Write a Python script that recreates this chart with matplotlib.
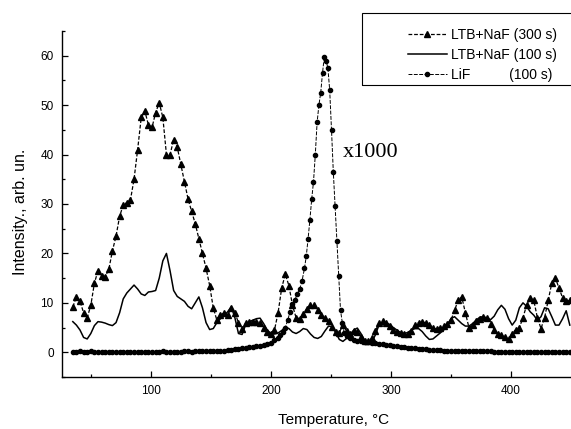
import numpy as np
import matplotlib
matplotlib.use("Agg")
import matplotlib.pyplot as plt
from matplotlib.patches import Rectangle

plt.rcParams['font.family'] = ['Liberation Sans', 'DejaVu Sans']

# temperature grid of the two LTB+NaF curves, deg C
temp = np.arange(35, 450, 3)

ltb_300 = [9.2, 11.2, 10.3, 8.0, 7.0, 9.5, 14.0, 16.5, 15.5, 15.3,
           16.8, 20.5, 23.5, 27.5, 29.8, 30.3, 30.8, 35.0, 41.0, 47.5,
           48.8, 46.0, 45.5, 48.5, 50.5, 47.5, 40.0, 40.0, 43.0, 41.5,
           38.0, 34.5, 31.0, 28.5, 26.0, 23.0, 20.0, 17.0, 13.5, 9.0,
           6.5, 7.5, 8.0, 7.5, 9.0, 8.0, 6.0, 4.8, 5.9, 6.1,
           6.2, 6.2, 6.0, 5.0, 4.2, 3.8, 4.5, 8.0, 13.0, 15.8,
           13.5, 9.5, 7.0, 6.8, 7.8, 8.8, 9.5, 9.5, 8.5, 7.6,
           7.0, 6.3, 5.2, 4.2, 4.0, 5.5, 4.3, 3.8, 4.3, 4.2,
           3.0, 2.3, 2.2, 2.8, 4.3, 5.9, 6.3, 6.0, 5.3, 4.6,
           4.2, 3.9, 3.7, 3.6, 4.3, 5.5, 6.0, 6.1, 6.0, 5.6,
           4.9, 4.7, 5.0, 5.3, 5.8, 6.5, 8.5, 10.5, 11.2, 8.0,
           5.0, 5.5, 6.3, 6.8, 7.1, 7.0, 5.8, 4.6, 3.8, 3.5,
           3.0, 2.7, 3.8, 4.6, 5.0, 7.0, 9.5, 11.0, 10.5, 7.0,
           4.8, 7.0, 10.5, 14.0, 15.0, 13.0, 11.0, 10.3, 10.5]

ltb_100 = [6.2, 5.5, 4.5, 3.0, 2.7, 3.8, 5.4, 6.2, 6.1, 5.9,
           5.6, 5.4, 6.0, 8.0, 10.8, 12.0, 12.8, 13.6, 12.8, 11.8,
           11.5, 12.2, 12.3, 12.5, 15.0, 18.5, 20.0, 16.5, 12.5, 11.3,
           10.8, 10.3, 9.3, 8.8, 10.0, 11.2, 9.0, 6.0, 4.6, 4.8,
           6.0, 6.8, 7.4, 8.2, 9.2, 7.0, 3.8, 3.6, 5.6, 6.2,
           6.5, 6.8, 6.9, 5.8, 4.5, 3.8, 3.7, 3.9, 4.4, 5.1,
           4.8, 4.1, 3.8, 4.2, 4.8, 4.6, 3.7, 3.0, 2.8, 3.2,
           4.3, 5.3, 5.2, 4.0, 2.6, 2.2, 2.8, 3.6, 4.5, 4.9,
           3.8, 2.5, 1.9, 2.0, 3.5, 5.5, 6.0, 6.0, 5.6, 5.0,
           4.5, 4.0, 3.8, 4.0, 4.5, 4.8, 4.8, 4.2, 3.3, 2.6,
           2.7, 3.3, 3.9, 4.5, 5.6, 6.8, 7.2, 6.5, 5.8, 5.3,
           5.3, 5.8, 6.5, 7.1, 7.2, 6.9, 6.6, 7.3, 8.6, 9.5,
           8.7, 6.8, 5.5, 6.5, 9.0, 10.0, 9.3, 8.2, 7.5, 6.5,
           7.2, 9.0, 8.8, 7.2, 5.5, 5.5, 6.8, 8.4, 5.5]

# LiF curve (scaled x1000), its own temperature points
lif_temp = list(range(35, 207, 3)) + [208, 210, 212, 214, 216, 218, 220, 222, 224, 226, 228,
            229.5, 231, 232.5, 234, 235.5, 237, 238.5, 240, 241.5, 243, 244.5,
            246, 247.5, 249, 250.5, 252, 253.5, 255, 256.5, 258, 259.5, 261,
            263, 266, 269] + list(range(272, 450, 3))
lif = ([0.1, 0.1, 0.2, 0.1, 0.1, 0.2, 0.1, 0.1, 0.1, 0.0,
        0.1, 0.1, 0.1, 0.0, 0.0, 0.1, 0.1, 0.0, 0.1, 0.1,
        0.1, 0.1, 0.1, 0.1, 0.1, 0.2, 0.1, 0.1, 0.1, 0.1,
        0.1, 0.2, 0.2, 0.1, 0.2, 0.2, 0.2, 0.2, 0.2, 0.2,
        0.2, 0.3, 0.3, 0.4, 0.5, 0.6, 0.7, 0.8, 0.9, 1.0,
        1.1, 1.2, 1.3, 1.4, 1.6, 1.9, 2.4, 2.8]
       + [3.5, 4.2, 5.0, 6.5, 8.2, 9.8, 10.6, 11.8, 12.8, 14.5, 17.0,
          19.5, 23.0, 26.8, 31.0, 34.5, 40.0, 46.5, 50.0, 52.5, 56.5, 59.8,
          59.0, 57.5, 53.0, 45.0, 36.5, 29.5, 22.5, 15.5, 8.5, 6.0, 4.0,
          3.2, 2.8, 2.5]
       + [2.3, 2.2, 2.1, 2.0, 1.9, 1.8, 1.7, 1.6, 1.5, 1.4,
          1.3, 1.2, 1.1, 1.0, 0.9, 0.8, 0.8, 0.7, 0.6, 0.6,
          0.5, 0.5, 0.4, 0.4, 0.3, 0.3, 0.3, 0.3, 0.2, 0.2,
          0.2, 0.2, 0.2, 0.2, 0.2, 0.2, 0.2, 0.2, 0.1, 0.1,
          0.1, 0.1, 0.1, 0.1, 0.1, 0.1, 0.1, 0.1, 0.1, 0.1,
          0.1, 0.1, 0.1, 0.1, 0.1, 0.1, 0.1, 0.1, 0.1, 0.1])

fig = plt.figure(figsize=(5.71, 4.29), dpi=100)
ax = fig.add_axes([62 / 571, 52 / 429, 509 / 571, 346 / 429])

ax.plot(temp, ltb_300, color='black', lw=0.9, ls=(0, (3, 1.5)),
        marker='^', ms=3.8, mec='black', mfc='black', label='LTB+NaF (300 s)')
ax.plot(temp, ltb_100, color='black', lw=1.1, label='LTB+NaF (100 s)')
ax.plot(lif_temp, lif, color='black', lw=0.7, ls=(0, (4, 1.5)),
        marker='o', ms=3.0, mec='black', mfc='black',
        label='LiF          (100 s)')

ax.set_xlim(26, 450)
ax.set_ylim(-5, 65)
ax.set_xticks([100, 200, 300, 400])
ax.set_xticks([50, 150, 250, 350], minor=True)
ax.set_yticks(range(0, 61, 10))
ax.set_yticks(range(-5, 66, 10), minor=True)
ax.tick_params(which='both', direction='in', labelsize=8.5, width=0.9)
ax.tick_params(which='major', length=4.5, pad=6)
ax.tick_params(which='minor', length=2.5)
ax.spines['top'].set_visible(False)
ax.spines['right'].set_visible(False)
for s in ('left', 'bottom'):
    ax.spines[s].set_linewidth(1.0)

ax.text(260, 40.5, 'x1000', family='Liberation Serif', fontsize=16, va='center')

fig.text(334 / 571, 1 - 420 / 429, 'Temperature, °C', fontsize=11,
         ha='center', va='center')
fig.text(21 / 571, 1 - 212 / 429, 'Intensity., arb. un.', fontsize=11.5,
         rotation=90, ha='center', va='center')

leg = ax.legend(loc='upper left', bbox_to_anchor=(398 / 571, 1 - 18 / 429),
                bbox_transform=fig.transFigure, frameon=False, fontsize=10,
                handlelength=2.8, handletextpad=0.3, labelspacing=0.45,
                numpoints=1, borderpad=0.2)
fig.patches.append(Rectangle((362 / 571, 1 - 85 / 429), 220 / 571, 72 / 429,
                             transform=fig.transFigure, fill=False,
                             edgecolor='black', lw=0.8))

fig.savefig('out.png', dpi=100)
